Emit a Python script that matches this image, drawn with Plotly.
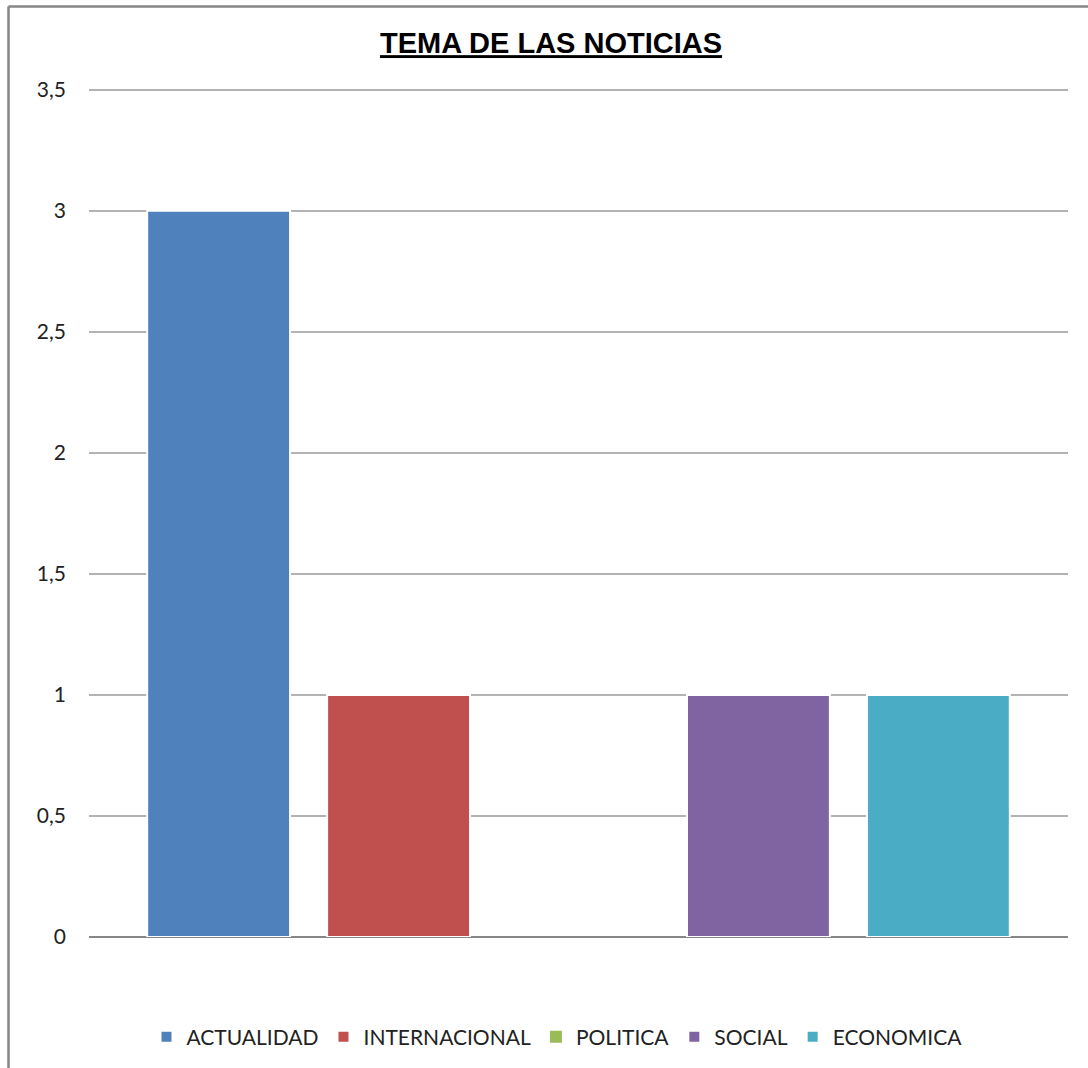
import plotly.graph_objects as go

series = ["ACTUALIDAD", "INTERNACIONAL", "POLITICA", "SOCIAL", "ECONOMICA"]
values = [3, 1, 0, 1, 1]
colors = ["#4F81BD", "#C0504D", "#9BBB59", "#8064A2", "#4BACC6"]
category = [""]
y_ticks = [0, 0.5, 1, 1.5, 2, 2.5, 3, 3.5]
y_max = 3.52

fig = go.Figure()
for name, v, c in zip(series, values, colors):
    fig.add_trace(go.Bar(
        x=category, y=[v], name=name,
        marker=dict(color=c, line=dict(color="white", width=2 if v else 0)),
    ))

W, H = 1088, 1068
L, R, T, B = 89, 20, 85, 131
pw, ph = W - L - R, H - T - B

def px_x(x):
    return (x - L) / pw

def px_y(y):
    return (H - B - y) / ph

border = dict(color="#868686", width=2.5)
fig.add_shape(type="line", xref="paper", yref="paper",
              x0=px_x(8.5), x1=px_x(W + 5), y0=px_y(6.5), y1=px_y(6.5), line=border)
fig.add_shape(type="line", xref="paper", yref="paper",
              x0=px_x(8.5), x1=px_x(8.5), y0=px_y(6.5), y1=px_y(H + 5), line=border)

fig.update_layout(
    width=W, height=H,
    margin=dict(l=L, r=R, t=T, b=B),
    paper_bgcolor="white", plot_bgcolor="white",
    separators=",.",
    barmode="group", bargap=0.081, bargroupgap=0.206,
    title=dict(text="<u><b>TEMA DE LAS NOTICIAS</b></u>",
               x=551 / W, xanchor="center", xref="container",
               y=1 - 43 / H, yanchor="middle", yref="container",
               font=dict(family="Liberation Sans, Arial", size=29, color="black")),
    font=dict(family="Lato, Calibri, sans-serif", color="#222"),
    showlegend=True,
    legend=dict(orientation="h", x=557 / W, xanchor="center", xref="container",
                y=1 - 1037 / H, yanchor="middle", yref="container",
                font=dict(size=21, color="#222"), itemwidth=30,
                traceorder="normal"),
    xaxis=dict(showticklabels=False, showgrid=False, showline=False, ticks=""),
    yaxis=dict(range=[0, y_max], tickvals=y_ticks, showgrid=True, gridcolor="#B3B3B3",
               gridwidth=1.5, zeroline=True, zerolinecolor="#878787", zerolinewidth=1.5,
               showline=False, ticks="", tickfont=dict(size=21, color="#222"),
               ticklabelstandoff=22),
)

fig.write_html("out.html", config={"displayModeBar": False},
               post_script="document.body.style.margin='0';")
